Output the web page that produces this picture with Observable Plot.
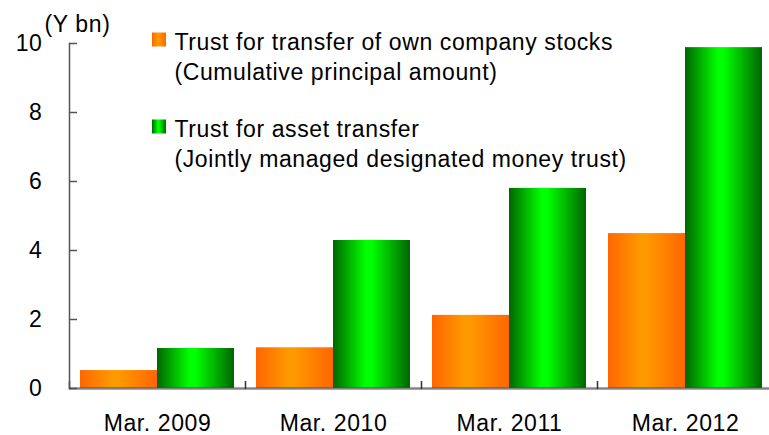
<!DOCTYPE html>
<html><head><meta charset="utf-8">
<script src="https://cdn.jsdelivr.net/npm/d3@7"></script>
<script src="https://cdn.jsdelivr.net/npm/@observablehq/plot@0.6"></script>
<style>html,body{margin:0;padding:0;background:#fff;} #chart svg{display:block}</style>
</head><body><div id="chart"></div>
<script>
const categories = ["Mar. 2009", "Mar. 2010", "Mar. 2011", "Mar. 2012"];
const ownStocks = [0.52, 1.18, 2.12, 4.49];
const assetTransfer = [1.16, 4.29, 5.80, 9.88];
const seriesNames = [
  "Trust for transfer of own company stocks\n(Cumulative principal amount)",
  "Trust for asset transfer\n(Jointly managed designated money trust)"
];
const yTicks = [0, 2, 4, 6, 8, 10];
const yUnit = "(Y bn)";

const rows = categories.flatMap((c, i) => [
  {cat: c, series: seriesNames[0], value: ownStocks[i]},
  {cat: c, series: seriesNames[1], value: assetTransfer[i]}
]);

const gradients = () => {
  const defs = d3.create("svg:defs");
  const add = (id, edge, mid) => {
    const g = defs.append("linearGradient").attr("id", id)
      .attr("x1", 0).attr("x2", 1).attr("y1", 0).attr("y2", 0);
    g.append("stop").attr("offset", "0%").attr("stop-color", edge);
    g.append("stop").attr("offset", "42%").attr("stop-color", mid);
    g.append("stop").attr("offset", "50%").attr("stop-color", mid);
    g.append("stop").attr("offset", "100%").attr("stop-color", edge);
  };
  add("gOrange", "#FF6600", "#FF9900");
  add("gGreen", "#006600", "#00FF00");
  return defs.node();
};

const tickShape = {draw(context, l) { context.moveTo(0, 0); context.lineTo(0, -l); }};

const chart = Plot.plot({
  width: 769,
  height: 435,
  marginLeft: 68,
  marginRight: -5,
  marginTop: 43,
  marginBottom: 47,
  style: {fontFamily: "'Liberation Sans', Arial, sans-serif", fontSize: "23px", letterSpacing: "0.6px", color: "black", background: "white"},
  fx: {domain: categories, paddingInner: 0, paddingOuter: 0, label: null},
  x: {domain: seriesNames, paddingInner: 0, paddingOuter: 0.14, axis: null},
  y: {domain: [0, 10], axis: null},
  marks: [
    gradients,
    Plot.barY(rows.filter(d => d.series === seriesNames[0]), {fx: "cat", x: "series", y: "value", fill: "url(#gOrange)", inset: 0}),
    Plot.barY(rows.filter(d => d.series === seriesNames[1]), {fx: "cat", x: "series", y: "value", fill: "url(#gGreen)", inset: 0}),
    Plot.ruleY([0], {stroke: "#444", strokeOpacity: 0.65, strokeWidth: 2.5}),
    Plot.vector(categories, {fx: d => d, frameAnchor: "bottom-left", length: 7, rotate: 0, anchor: "start", shape: tickShape, stroke: "#333", strokeWidth: 1.5}),
    Plot.frame({anchor: "left", facet: "super", stroke: "#555", strokeWidth: 1.5}),
    Plot.axisY({ticks: yTicks, anchor: "left", tickSize: -8, tickPadding: 35, label: null, stroke: "#555", strokeWidth: 1.5, tickFormat: d => String(d)}),
    Plot.axisFx({anchor: "bottom", tickSize: 0, tickPadding: 26, label: null}),
    Plot.text([yUnit], {text: d => d, frameAnchor: "top-left", dx: 8, dy: -28.3, textAnchor: "middle", lineAnchor: "top", facet: "super", fill: "black"}),
    Plot.dot([seriesNames[0]], {frameAnchor: "top-left", dx: 89.5, dy: -4, symbol: "square", r: 7.9, fill: "url(#gOrange)", stroke: null, facet: "super"}),
    Plot.dot([seriesNames[1]], {frameAnchor: "top-left", dx: 89.5, dy: 83, symbol: "square", r: 7.9, fill: "url(#gGreen)", stroke: null, facet: "super"}),
    Plot.text([seriesNames[0]], {text: d => d, frameAnchor: "top-left", dx: 105, dy: -14.3, textAnchor: "start", lineAnchor: "top", lineHeight: 1.304, facet: "super", fill: "black"}),
    Plot.text([seriesNames[1]], {text: d => d, frameAnchor: "top-left", dx: 105, dy: 72.7, textAnchor: "start", lineAnchor: "top", lineHeight: 1.304, facet: "super", fill: "black"})
  ]
});
document.getElementById("chart").append(chart);
</script></body></html>
